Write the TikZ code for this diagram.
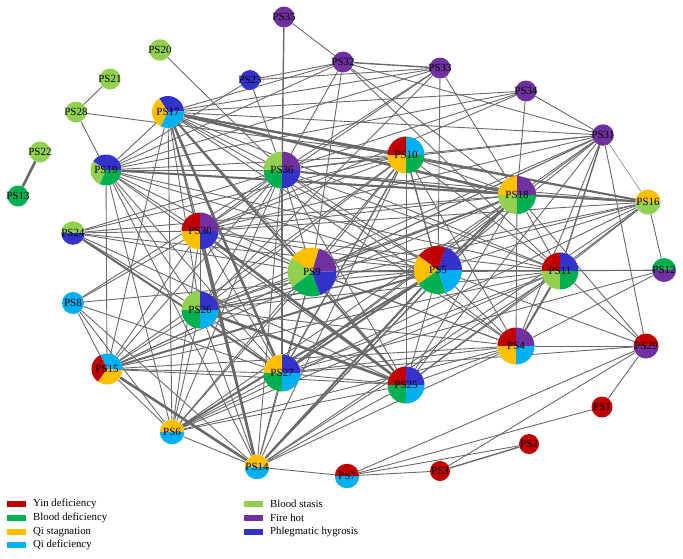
\documentclass[tikz,border=0pt]{standalone}
\usepackage{fontspec}
\setmainfont{Liberation Serif}
\pgfdeclarelayer{background}
\pgfsetlayers{background,main}
\definecolor{cyin}{RGB}{192,0,0}
\definecolor{cbd}{RGB}{0,176,80}
\definecolor{cqs}{RGB}{255,192,0}
\definecolor{cqd}{RGB}{0,176,240}
\definecolor{cbs}{RGB}{146,208,80}
\definecolor{cfh}{RGB}{112,48,160}
\definecolor{cph}{RGB}{51,51,204}
\definecolor{cedge}{RGB}{105,105,105}
\newcommand\pieS[3]{\fill[#3] (path picture bounding box.center) -- ++(#1:40pt) arc[start angle=#1,end angle=#2,radius=40pt] -- cycle;}
\newcommand\pn[5]{\node[pnode, minimum size=#4pt, #5] (#1) at (#2,#3) {\makebox[0pt]{#1}};}
\tikzset{
  pnode/.style={circle, inner sep=0pt, font=\fontsize{11}{12}\selectfont},
  q4/.style n args={4}{path picture={\pieS{90}{180}{#1}\pieS{0}{90}{#2}\pieS{180}{270}{#3}\pieS{270}{360}{#4}}},
  h2/.style 2 args={path picture={\pieS{0}{180}{#1}\pieS{180}{360}{#2}}},
  edge/.style={draw=cedge, line width=#1},
  lgbox/.style={rectangle, inner sep=0pt, minimum width=19pt, minimum height=6.5pt},
  lgtext/.style={anchor=west, inner sep=0pt, font=\fontsize{10.8}{12}\selectfont}
}
\begin{document}
\begin{tikzpicture}[x=1pt,y=-1pt]
\useasboundingbox (0,0) rectangle (683,558);
% nodes
\pn{PS1}{602}{407}{21}{fill=cyin}
\pn{PS2}{529}{444}{20}{fill=cyin}
\pn{PS3}{440}{471}{20}{fill=cyin}
\pn{PS4}{516}{346}{37}{q4={cyin}{cfh}{cqs}{cqd}}
\pn{PS5}{438}{270}{48}{path picture={\pieS{0}{72}{cph}\pieS{72}{144}{cyin}\pieS{144}{216}{cqs}\pieS{216}{288}{cbd}\pieS{288}{360}{cqd}}}
\pn{PS6}{172}{432}{24.5}{h2={cqs}{cqd}}
\pn{PS7}{347}{476}{24.5}{h2={cyin}{cqd}}
\pn{PS8}{73}{303}{22}{fill=cqd}
\pn{PS9}{312}{272}{49}{path picture={\pieS{2}{74}{cfh}\pieS{74}{146}{cqs}\pieS{146}{218}{cbs}\pieS{218}{290}{cbd}\pieS{290}{362}{cph}}}
\pn{PS10}{406}{155}{37}{q4={cyin}{cqd}{cqs}{cbd}}
\pn{PS11}{560}{271}{37}{q4={cyin}{cph}{cbs}{cbd}}
\pn{PS12}{664}{270}{24}{h2={cbd}{cfh}}
\pn{PS13}{18}{196}{21}{fill=cbd}
\pn{PS14}{257}{467}{24.5}{h2={cqs}{cqd}}
\pn{PS15}{107}{369}{31}{path picture={\pieS{-5}{115}{cqd}\pieS{115}{235}{cyin}\pieS{235}{355}{cqs}}}
\pn{PS16}{648}{202}{25}{h2={cqs}{cbs}}
\pn{PS17}{168}{112}{32}{path picture={\pieS{3}{123}{cph}\pieS{123}{243}{cqs}\pieS{243}{363}{cqd}}}
\pn{PS18}{517}{195}{38}{q4={cqs}{cfh}{cbs}{cbd}}
\pn{PS19}{106}{170}{31}{path picture={\pieS{0}{146}{cph}\pieS{146}{247}{cbs}\pieS{247}{360}{cbd}}}
\pn{PS20}{160}{50}{21.5}{fill=cbs}
\pn{PS21}{110}{79}{21}{fill=cbs}
\pn{PS22}{40}{152}{21}{fill=cbs}
\pn{PS23}{250}{80}{20}{fill=cph}
\pn{PS24}{73}{233}{23.5}{h2={cbs}{cph}}
\pn{PS25}{406}{385}{37}{q4={cyin}{cph}{cbd}{cqd}}
\pn{PS26}{200}{310}{37}{q4={cbs}{cph}{cbd}{cqd}}
\pn{PS27}{282}{373}{37}{q4={cqs}{cph}{cbd}{cqd}}
\pn{PS28}{76}{112}{21}{fill=cbs}
\pn{PS29}{646}{346}{25}{h2={cyin}{cfh}}
\pn{PS30}{200}{231}{37}{q4={cyin}{cfh}{cqs}{cph}}
\pn{PS31}{603}{135}{21.5}{fill=cfh}
\pn{PS32}{343}{62}{21}{fill=cfh}
\pn{PS33}{440}{68}{21}{fill=cfh}
\pn{PS34}{526}{91}{21}{fill=cfh}
\pn{PS35}{284}{17}{21}{fill=cfh}
\pn{PS36}{282}{170}{37}{q4={cbs}{cfh}{cbd}{cph}}
% edges
\begin{pgfonlayer}{background}
\draw[edge=0.45pt] (PS31) -- (PS16);
\foreach \a/\b in {PS21/PS28,PS28/PS19,PS28/PS10,PS20/PS36,PS35/PS32,PS23/PS32,PS23/PS33,PS23/PS36,PS23/PS19,
 PS17/PS32,PS17/PS33,PS19/PS32,PS19/PS33,PS32/PS36,PS32/PS9,PS32/PS18,PS32/PS11,PS32/PS31,
 PS33/PS36,PS33/PS30,PS33/PS26,PS33/PS18,PS33/PS5,
 PS34/PS31,PS34/PS18,PS34/PS36,PS34/PS30,PS34/PS19,PS34/PS17,
 PS31/PS17,PS31/PS36,PS31/PS30,PS31/PS29,PS31/PS4,PS31/PS5,PS31/PS25,PS31/PS18,PS31/PS9,PS31/PS27,PS31/PS26,PS31/PS10,PS31/PS15,
 PS17/PS36,PS17/PS19,PS17/PS30,PS17/PS26,PS17/PS15,PS17/PS6,PS17/PS9,PS17/PS5,PS17/PS11,PS17/PS4,
 PS19/PS36,PS19/PS10,PS19/PS18,PS19/PS30,PS19/PS9,PS19/PS5,PS19/PS11,PS19/PS26,PS19/PS27,PS19/PS25,PS19/PS15,PS19/PS6,PS19/PS14,
 PS24/PS36,PS24/PS10,PS24/PS18,PS24/PS30,PS24/PS9,PS24/PS5,PS24/PS26,PS24/PS25,
 PS8/PS5,PS8/PS30,PS8/PS36,PS8/PS15,PS8/PS6,PS8/PS14,PS8/PS27,
 PS15/PS30,PS15/PS26,PS15/PS36,PS15/PS10,PS15/PS18,PS15/PS9,PS15/PS11,PS15/PS4,PS15/PS27,PS15/PS25,PS15/PS6,
 PS6/PS30,PS6/PS26,PS6/PS36,PS6/PS10,PS6/PS18,PS6/PS9,PS6/PS11,PS6/PS4,PS6/PS27,PS6/PS25,PS6/PS14,PS6/PS16,
 PS14/PS26,PS14/PS36,PS14/PS10,PS14/PS9,PS14/PS11,PS14/PS4,PS14/PS27,PS14/PS25,PS14/PS7,PS14/PS16,
 PS30/PS36,PS30/PS10,PS30/PS18,PS30/PS16,PS30/PS9,PS30/PS5,PS30/PS11,PS30/PS4,PS30/PS26,PS30/PS27,
 PS26/PS36,PS26/PS10,PS26/PS18,PS26/PS16,PS26/PS9,PS26/PS11,PS26/PS4,PS26/PS27,
 PS36/PS10,PS36/PS16,PS36/PS9,PS36/PS5,PS36/PS11,PS36/PS4,PS36/PS25,
 PS10/PS18,PS10/PS16,PS10/PS9,PS10/PS11,PS10/PS4,PS10/PS25,
 PS9/PS11,PS9/PS4,PS9/PS27,PS9/PS25,PS9/PS16,
 PS5/PS16,PS5/PS11,PS5/PS12,PS5/PS4,PS5/PS25,PS5/PS29,
 PS18/PS11,PS18/PS4,PS18/PS27,PS18/PS25,PS18/PS29,
 PS11/PS12,PS11/PS29,PS11/PS27,PS11/PS25,PS11/PS16,
 PS4/PS29,PS4/PS12,PS4/PS27,PS4/PS25,
 PS27/PS25,PS27/PS29,PS27/PS12,PS25/PS16,
 PS7/PS3,PS7/PS2,PS7/PS29,PS7/PS1,PS3/PS29,PS1/PS29,PS12/PS16}
 \draw[edge=0.9pt] (\a) -- (\b);
\foreach \a/\b in {PS35/PS36,PS32/PS33,PS31/PS11,PS17/PS14,PS17/PS10,PS14/PS18,PS26/PS5,PS36/PS27,PS10/PS5,PS10/PS27,PS9/PS18,PS9/PS5,PS18/PS16,PS3/PS2}
 \draw[edge=1.4pt] (\a) -- (\b);
\foreach \a/\b in {PS17/PS16,PS17/PS25,PS24/PS27,PS15/PS5,PS6/PS5,PS14/PS5,PS36/PS18,PS5/PS18,PS5/PS27,PS11/PS4,PS19/PS16}
 \draw[edge=2pt] (\a) -- (\b);
\foreach \a/\b in {PS22/PS13,PS17/PS18,PS17/PS27,PS30/PS25,PS26/PS25,PS15/PS14,PS30/PS14}
 \draw[edge=2.6pt] (\a) -- (\b);
\end{pgfonlayer}
% legend
\node[lgbox, fill=cyin] (L1) at (16.5,504) {};
\node[lgbox, fill=cbd] (L2) at (16.5,518) {};
\node[lgbox, fill=cqs] (L3) at (16.5,532) {};
\node[lgbox, fill=cqd] (L4) at (16.5,545) {};
\node[lgbox, fill=cbs] (L5) at (253.5,504) {};
\node[lgbox, fill=cfh] (L6) at (253.5,518) {};
\node[lgbox, fill=cph] (L7) at (253.5,532) {};
\node[lgtext] (T1) at (33,504) {Yin deficiency};
\node[lgtext] (T2) at (33,518) {Blood deficiency};
\node[lgtext] (T3) at (33,532) {Qi stagnation};
\node[lgtext] (T4) at (33,545) {Qi deficiency};
\node[lgtext] (T5) at (270,504) {Blood stasis};
\node[lgtext] (T6) at (270,518) {Fire hot};
\node[lgtext] (T7) at (270,532) {Phlegmatic hygrosis};
\end{tikzpicture}
\end{document}
